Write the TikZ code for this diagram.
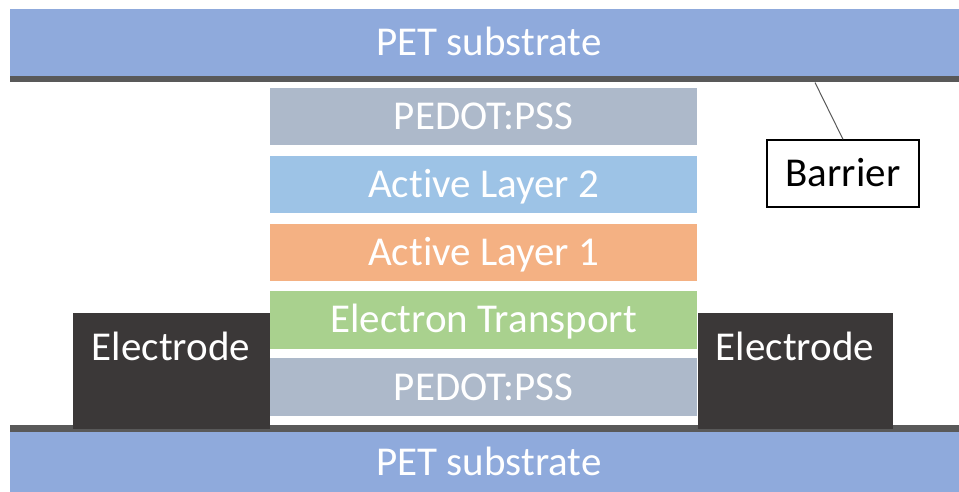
\documentclass[tikz,border=0pt]{standalone}
\usepackage{fontspec}
\setmainfont{Carlito}[Ligatures=NoCommon]
\definecolor{petblue}{HTML}{8FAADC}
\definecolor{barriergray}{HTML}{595959}
\definecolor{pedot}{HTML}{ADB9CA}
\definecolor{activetwo}{HTML}{9DC3E6}
\definecolor{activeone}{HTML}{F4B183}
\definecolor{etl}{HTML}{A9D18E}
\definecolor{electrode}{HTML}{3B3838}
\tikzset{
  label text/.style={font=\fontsize{41}{49}\selectfont, text height=26pt, text depth=0pt, inner sep=0pt},
  layerbox/.style={label text, text=white, anchor=north west, minimum width=427pt, minimum height=57pt},
  substrate/.style={fill=petblue},
  barrierfilm/.style={fill=barriergray},
  electrodebox/.style={fill=electrode},
}
\begin{document}
\begin{tikzpicture}[x=1pt,y=-1pt]
  \useasboundingbox (0,0) rectangle (959,492);
  % top PET substrate with its barrier film underneath
  \fill[substrate] (10,9) rectangle (959,76);
  \fill[barrierfilm] (10,76) rectangle (959,82.5);
  \node[label text, text=white] (petTop) at (489,43) {PET substrate};
  % bottom PET substrate with its barrier film on top
  \fill[barrierfilm] (10,425) rectangle (959,432);
  \fill[substrate] (10,432) rectangle (959,492);
  \node[label text, text=white] (petBot) at (489,462) {PET substrate};
  % electrodes
  \fill[electrodebox] (73,313) rectangle (269.5,429);
  \fill[electrodebox] (698,313) rectangle (893,429);
  \node[label text, text=white] (elLeft) at (171,347.5) {Electrode};
  \node[label text, text=white] (elRight) at (795,347.5) {Electrode};
  % device stack
  \node[layerbox, fill=pedot] (pedotTop) at (270,88) {PEDOT:PSS};
  \node[layerbox, fill=activetwo] (act2) at (270,156) {Active Layer 2};
  \node[layerbox, fill=activeone] (act1) at (270,224) {Active Layer 1};
  \node[layerbox, fill=etl, minimum height=57.5pt] (etl) at (270,291) {Electron Transport};
  \node[layerbox, fill=pedot, minimum height=58pt] (pedotBot) at (270,358) {PEDOT:PSS};
  % barrier callout
  \node[label text, text=black, draw=black, line width=1.3pt, minimum width=152pt, minimum height=67pt] (barrier) at (843,173.5) {Barrier};
  \coordinate (barrierTip) at (815,82.5);
  \draw[barriergray, line width=1pt] (barrierTip) -- (barrier.north);
\end{tikzpicture}
\end{document}
